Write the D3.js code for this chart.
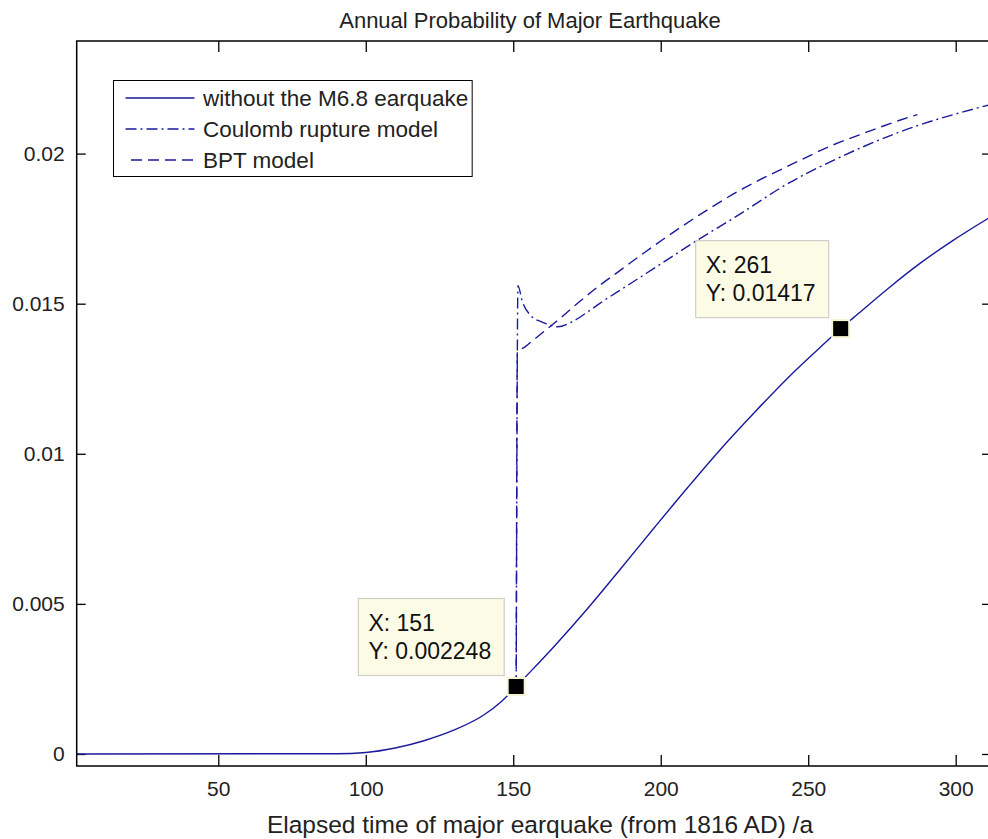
<!DOCTYPE html>
<meta charset="utf-8">
<style>
body { margin: 0; background: #fff; }
text { font-family: "Liberation Sans", Arial, sans-serif; fill: #222; }
.axis path { display: none; }
.axis line { stroke: #000; stroke-width: 1.3px; }
.axis text { font-size: 21px; }
.curve { fill: none; stroke: #1a1a9e; stroke-width: 1.4px; }
</style>
<svg width="988" height="839"></svg>
<script src="https://cdn.jsdelivr.net/npm/d3@7/dist/d3.min.js"></script>
<script>

// values
var solidYears = [2, 90, 100, 110, 120, 130, 140, 146, 151, 156, 164, 175, 186, 198, 209, 220, 232, 243, 256, 261, 267, 277, 288, 299, 312];
var solidProb = [0, 0.00001, 0.00005, 0.0002, 0.00045, 0.0008, 0.0013, 0.00175, 0.002248, 0.00276, 0.0036, 0.00482, 0.00612, 0.00756, 0.00886, 0.01012, 0.0114, 0.01252, 0.01372, 0.01417, 0.01467, 0.0155, 0.01635, 0.0171, 0.0179];

var coulombYears = [151, 151.6, 153, 156, 160, 165, 170, 176, 181, 188, 199, 213, 225, 244, 258, 281, 312];
var coulombProb = [0.002248, 0.0156, 0.0151, 0.0146, 0.01438, 0.01423, 0.0144, 0.01478, 0.01512, 0.01556, 0.01626, 0.01715, 0.01787, 0.01905, 0.01975, 0.02072, 0.02164];

var bptYears = [151, 151.4, 154, 157, 162, 166, 172, 180, 185, 195, 204, 213, 228, 245, 258, 270, 281, 287];
var bptProb = [0.002248, 0.01338, 0.01356, 0.0138, 0.0142, 0.01452, 0.01503, 0.01566, 0.01602, 0.01674, 0.01736, 0.01795, 0.01884, 0.01967, 0.02027, 0.02072, 0.02111, 0.0213];

var xTicks = [50, 100, 150, 200, 250, 300];
var yTicks = [0, 0.005, 0.01, 0.015, 0.02];

var tipX = [151, 261];
var tipY = [0.002248, 0.01417];

var legendNames = ["without the M6.8 earquake", "Coulomb rupture model", "BPT model"];
var legendDash = [null, "11,4,2,4", "11,6"];

var svg = d3.select("svg");

var x = d3.scaleLinear().domain([2, 312]).range([76.7, 991.1]);
var y = d3.scaleLinear().domain([-0.0004, 0.02375]).range([766, 41]);

svg.append("defs").append("clipPath").attr("id", "clip")
  .append("rect")
    .attr("x", x.range()[0]).attr("y", y.range()[1])
    .attr("width", x.range()[1] - x.range()[0])
    .attr("height", y.range()[0] - y.range()[1]);

// axes, ticks pointing inward on all four sides
svg.append("g").attr("class", "axis")
    .attr("transform", "translate(0," + y.range()[0] + ")")
    .call(d3.axisBottom(x).tickValues(xTicks).tickSize(-11).tickPadding(15).tickFormat(d3.format("")));

svg.append("g").attr("class", "axis")
    .attr("transform", "translate(0," + y.range()[1] + ")")
    .call(d3.axisTop(x).tickValues(xTicks).tickSize(-11).tickFormat(""));

svg.append("g").attr("class", "axis")
    .attr("transform", "translate(" + x.range()[0] + ",0)")
    .call(d3.axisLeft(y).tickValues(yTicks).tickSize(-9).tickPadding(12).tickFormat(d3.format("")));

svg.append("g").attr("class", "axis")
    .attr("transform", "translate(" + x.range()[1] + ",0)")
    .call(d3.axisRight(y).tickValues(yTicks).tickSize(-9).tickFormat(""));

var line = d3.line()
    .x(function(d) { return x(d[0]); })
    .y(function(d) { return y(d[1]); })
    .curve(d3.curveMonotoneX);

var plot = svg.append("g").attr("clip-path", "url(#clip)");

plot.append("path").attr("class", "curve")
    .attr("d", line(d3.zip(coulombYears, coulombProb)))
    .style("stroke-dasharray", legendDash[1]);

plot.append("path").attr("class", "curve")
    .attr("d", line(d3.zip(bptYears, bptProb)))
    .style("stroke-dasharray", legendDash[2]);

plot.append("path").attr("class", "curve")
    .attr("d", line(d3.zip(solidYears, solidProb)));

// box
svg.append("rect")
    .attr("x", x.range()[0]).attr("y", y.range()[1])
    .attr("width", x.range()[1] - x.range()[0])
    .attr("height", y.range()[0] - y.range()[1])
    .style("fill", "none").style("stroke", "#000").style("stroke-width", 1.5);

// titles
svg.append("text")
    .attr("x", 530).attr("y", 28)
    .attr("text-anchor", "middle")
    .style("font-size", "22px")
    .text("Annual Probability of Major Earthquake");

svg.append("text")
    .attr("x", 540).attr("y", 833)
    .attr("text-anchor", "middle")
    .style("font-size", "24.5px")
    .text("Elapsed time of major earquake (from 1816 AD) /a");

// legend
var legend = svg.append("g");
var legendBox = legend.append("rect")
    .attr("x", 113.5).attr("y", 80.5).attr("height", 96)
    .style("fill", "#fff").style("stroke", "#000").style("stroke-width", 1);

var rows = legend.selectAll(".row")
  .data(legendNames)
  .enter().append("g")
    .attr("transform", function(d, i) { return "translate(0," + (98 + i * 31) + ")"; });

rows.append("line")
    .attr("x1", function(d, i) { return i == 2 ? 131 : 125.5; })
    .attr("x2", 194.5)
    .attr("class", "curve")
    .style("stroke-dasharray", function(d, i) { return legendDash[i]; });

rows.append("text")
    .attr("x", 203).attr("dy", 8)
    .style("font-size", "22.5px")
    .text(function(d) { return d; });

var maxW = d3.max(rows.selectAll("text").nodes(), function(n) { return n.getComputedTextLength(); });
legendBox.attr("width", 203 + maxW + 4 - 113.5);

// data tips
var tips = svg.selectAll(".tip")
  .data(d3.zip(tipX, tipY))
  .enter().append("g")
    .attr("transform", function(d) { return "translate(" + x(d[0]) + "," + y(d[1]) + ")"; });

tips.each(function(d) {
  var g = d3.select(this);
  var box = g.append("rect")
      .attr("y", -88).attr("height", 77)
      .style("fill", "#fbfbe6").style("stroke", "#cfcfc4").style("stroke-width", 1.2);
  var t1 = g.append("text").attr("y", -56).style("font-size", "23px").style("fill", "#111").text("X: " + d[0]);
  var t2 = g.append("text").attr("y", -28).style("font-size", "23px").style("fill", "#111").text("Y: " + d[1]);
  var w = Math.max(t1.node().getComputedTextLength(), t2.node().getComputedTextLength()) + 23;
  box.attr("x", -12 - w).attr("width", w);
  t1.attr("x", -12 - w + 10);
  t2.attr("x", -12 - w + 10);
  g.append("rect")
      .attr("x", -8.5).attr("y", -8.5).attr("width", 17).attr("height", 17)
      .style("fill", "#000").style("stroke", "#f4f4d2").style("stroke-width", 2);
});

</script>
